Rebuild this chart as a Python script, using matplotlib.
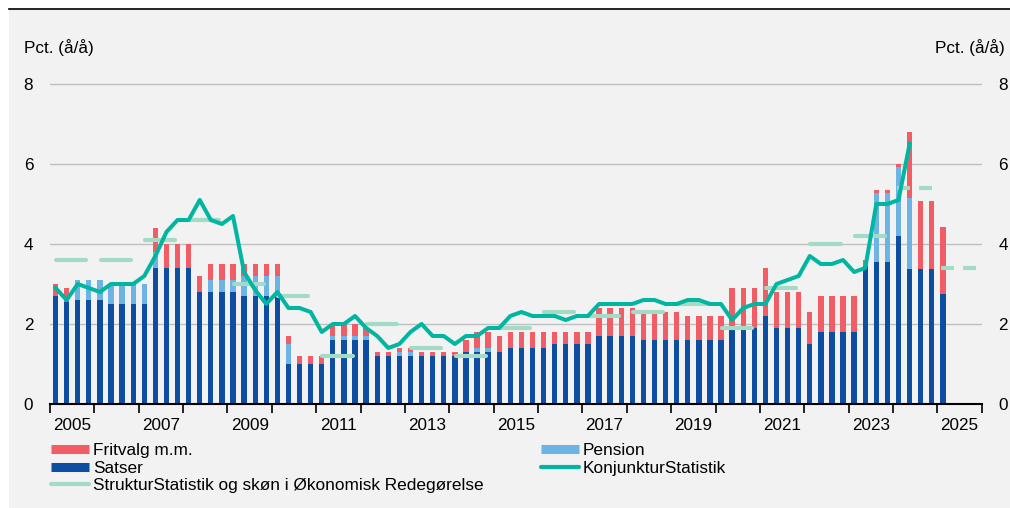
import numpy as np
import matplotlib.pyplot as plt
from matplotlib.lines import Line2D
from matplotlib.patches import Rectangle

plt.rcParams['font.family'] = ['Liberation Sans', 'DejaVu Sans']

# quarterly data, 2005K1 - 2025K1
satser = [2.7, 2.55, 2.6, 2.6, 2.6, 2.5, 2.5, 2.5,
          2.5, 3.4, 3.4, 3.4, 3.4, 2.8, 2.8, 2.8,
          2.8, 2.7, 2.7, 2.7, 2.7, 1.0, 1.0, 1.0,
          1.0, 1.6, 1.6, 1.6, 1.6, 1.2, 1.2, 1.2,
          1.2, 1.2, 1.2, 1.2, 1.2, 1.3, 1.3, 1.3,
          1.3, 1.4, 1.4, 1.4, 1.4, 1.5, 1.5, 1.5,
          1.5, 1.7, 1.7, 1.7, 1.7, 1.6, 1.6, 1.6,
          1.6, 1.6, 1.6, 1.6, 1.6, 1.85, 1.85, 1.9,
          2.2, 1.9, 1.9, 1.9, 1.5, 1.8, 1.8, 1.8,
          1.8, 3.45, 3.55, 3.55, 4.2, 3.37, 3.38, 3.38,
          2.75]
pension = [0, 0, 0.5, 0.5, 0.5, 0.5, 0.5, 0.5,
           0.5, 0.4, 0, 0, 0, 0, 0.3, 0.3,
           0.3, 0.5, 0.5, 0.5, 0.5, 0.5, 0, 0,
           0, 0.1, 0.1, 0.1, 0.1, 0, 0, 0.1,
           0.1, 0, 0, 0, 0, 0, 0.1, 0.1,
           0, 0, 0, 0, 0, 0, 0, 0,
           0, 0, 0, 0, 0, 0, 0, 0,
           0, 0, 0, 0, 0, 0, 0, 0,
           0, 0, 0, 0, 0, 0, 0, 0,
           0, 0, 1.73, 1.73, 1.73, 1.77, 0, 0,
           0]
fritvalg = [0.3, 0.35, 0, 0, 0, 0, 0, 0,
            0, 0.6, 0.6, 0.6, 0.6, 0.4, 0.4, 0.4,
            0.4, 0.3, 0.3, 0.3, 0.3, 0.2, 0.2, 0.2,
            0.2, 0.25, 0.3, 0.3, 0.2, 0.1, 0.1, 0.1,
            0.1, 0.1, 0.1, 0.1, 0.1, 0.3, 0.4, 0.4,
            0.4, 0.4, 0.4, 0.4, 0.4, 0.3, 0.3, 0.3,
            0.3, 0.7, 0.7, 0.7, 0.7, 0.7, 0.7, 0.7,
            0.7, 0.6, 0.6, 0.6, 0.6, 1.05, 1.05, 1.0,
            1.2, 0.9, 0.9, 0.9, 0.8, 0.9, 0.9, 0.9,
            0.9, 0.15, 0.07, 0.07, 0.07, 1.66, 1.69, 1.69,
            1.67]
# KonjunkturStatistik, 2005K1 - 2024K2
konjunktur = [2.9, 2.6, 3.0, 2.9, 2.8, 3.0, 3.0, 3.0,
              3.2, 3.7, 4.3, 4.6, 4.6, 5.1, 4.6, 4.5,
              4.7, 3.3, 2.85, 2.5, 2.8, 2.4, 2.4, 2.3,
              1.8, 2.0, 2.0, 2.2, 1.9, 1.7, 1.4, 1.5,
              1.8, 2.0, 1.7, 1.7, 1.5, 1.7, 1.7, 1.9,
              1.9, 2.2, 2.3, 2.2, 2.2, 2.2, 2.1, 2.2,
              2.2, 2.5, 2.5, 2.5, 2.5, 2.6, 2.6, 2.5,
              2.5, 2.6, 2.6, 2.5, 2.5, 2.1, 2.4, 2.5,
              2.5, 3.0, 3.1, 3.2, 3.7, 3.5, 3.5, 3.6,
              3.3, 3.4, 5.0, 5.0, 5.1, 6.5]
# StrukturStatistik og skøn, annual
years = list(range(2005, 2026))
struktur = [3.6, 3.6, 4.1, 4.6, 3.0, 2.7, 1.2, 2.0, 1.4, 1.2, 1.9,
            2.3, 2.2, 2.3, 2.5, 1.9, 2.9, 4.0, 4.2, 5.4, 3.4]
skon_fra = 2024  # skøn vises stiplet

c_sat = '#0D4EA2'
c_pen = '#6DB3E3'
c_fri = '#F25C64'
c_konj = '#00B6A1'
c_str = '#A3DBC6'

W, H = 1010, 508
fig = plt.figure(figsize=(W / 100, H / 100), dpi=100, facecolor='white')
fig.patches.append(Rectangle((9 / W, 0), 1 - 9 / W, 1 - 9 / H, transform=fig.transFigure,
                             facecolor='#F2F2F2', edgecolor='none', zorder=-10))
fig.add_artist(Line2D([9 / W, 1], [1 - 9 / H] * 2, transform=fig.transFigure,
                      color='black', lw=1.2))

ax = fig.add_axes([50 / W, 1 - 404 / H, (981.7 - 50) / W, 340 / H])
ax.set_facecolor('none')

sat = np.array(satser)
pen = np.array(pension)
fri = np.array(fritvalg)
xq = 2005 + (np.arange(len(sat)) + 0.5) / 4
bw = 0.12
ax.bar(xq, sat, width=bw, color=c_sat, zorder=2)
ax.bar(xq, pen, width=bw, bottom=sat, color=c_pen, zorder=2)
ax.bar(xq, fri, width=bw, bottom=sat + pen, color=c_fri, zorder=2)

for yr, v in zip(years, struktur):
    if yr >= skon_fra:
        ax.plot([yr + 0.083, yr + 0.886], [v, v], color=c_str, lw=3,
                linestyle=(0, (3.1, 2.2)), dash_capstyle='butt', zorder=3)
    else:
        ax.plot([yr + 0.14, yr + 0.82], [v, v], color=c_str, lw=3,
                solid_capstyle='round', zorder=3)

ax.plot(xq[:len(konjunktur)], konjunktur, color=c_konj, lw=2.9, zorder=4)

ax.set_xlim(2005, 2026)
ax.set_ylim(0, 8.5)
ax.set_yticks([0, 2, 4, 6, 8])
ax.yaxis.grid(True, color='#BFBFBF', lw=1.0)
ax.set_axisbelow(True)
ax.tick_params(axis='y', length=0, labelleft=True, labelright=True, pad=12, labelsize=12.3)

ax.set_xticks(range(2005, 2027))
ax.set_xticklabels([])
ax.tick_params(axis='x', which='major', length=6.5, width=1.2, color='black')
lab_years = [y for y in years if y % 2 == 1]
ax.set_xticks([y + 0.5 for y in lab_years], minor=True)
ax.set_xticklabels([str(y) for y in lab_years], minor=True)
ax.tick_params(axis='x', which='minor', length=0, pad=10, labelsize=12.3)

for s in ['left', 'right', 'top']:
    ax.spines[s].set_visible(False)
ax.spines['bottom'].set_color('black')
ax.spines['bottom'].set_linewidth(1.5)

fig.text(24 / W, 1 - 48 / H, 'Pct. (å/å)', ha='left', va='center', fontsize=12.3)
fig.text(1005 / W, 1 - 48 / H, 'Pct. (å/å)', ha='right', va='center', fontsize=12.3)

handles = [
    Line2D([], [], color=c_fri, lw=6.5, solid_capstyle='butt'),
    Line2D([], [], color=c_sat, lw=6.5, solid_capstyle='butt'),
    Line2D([], [], color=c_str, lw=3, solid_capstyle='round'),
    Line2D([], [], color=c_pen, lw=6.5, solid_capstyle='butt'),
    Line2D([], [], color=c_konj, lw=3, solid_capstyle='round'),
]
labels = ['Fritvalg m.m.', 'Satser', 'StrukturStatistik og skøn i Økonomisk Redegørelse',
          'Pension', 'KonjunkturStatistik']
fig.legend(handles, labels, loc='upper left', bbox_to_anchor=(51 / W, 1 - 443 / H),
           ncol=2, frameon=False, fontsize=12.4, handlelength=2.2, handletextpad=0.25,
           columnspacing=3.3, labelspacing=0.15, borderpad=0, borderaxespad=0)

fig.savefig('out.png', dpi=100)
